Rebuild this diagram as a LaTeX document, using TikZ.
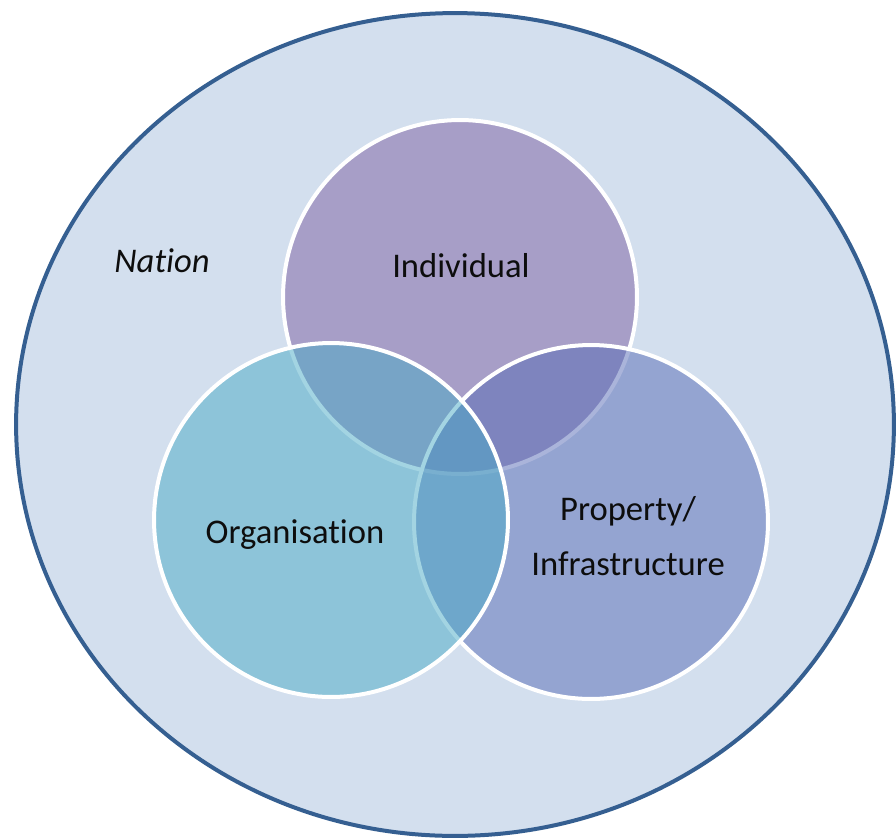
\documentclass[tikz,border=0pt]{standalone}
\usepackage{fontspec}
\setmainfont{Carlito}[Ligatures=NoCommon]
\usepackage{xcolor}
\usetikzlibrary{shapes.geometric,positioning}

\definecolor{nationfill}{RGB}{211,223,238}
\definecolor{nationline}{RGB}{53,95,145}
\definecolor{indfill}{RGB}{125,95,162}
\definecolor{orgfill}{RGB}{73,171,198}
\definecolor{propfill}{RGB}{87,107,182}
\definecolor{labeltext}{RGB}{13,13,13}

\begin{document}
\begin{tikzpicture}[
    x=0.02cm, y=-0.02cm,
    nation/.style={ellipse, draw=nationline, fill=nationfill, line width=0.08cm,
        inner sep=0pt, minimum width=17.56cm, minimum height=16.46cm},
    venn/.style={circle, draw=white, line width=0.08cm, fill opacity=0.5,
        inner sep=0pt, minimum size=7.08cm},
    label/.style={text=labeltext, align=center, font=\fontsize{19.7}{31.2}\selectfont}
]
\useasboundingbox (0,0) rectangle (896,839);

% outer region
\node[nation] (nation) at (455,424.5) {};

% the three sets, drawn in this order so the borders overlap right
\node[venn, fill=indfill] (ind) at (460,297) {};
\node[venn, fill=propfill] (prop) at (591,522) {};
\node[venn, fill=orgfill] (org) at (331,520) {};

% labels
\node[label, font=\fontsize{19.7}{31.2}\selectfont\itshape] (nationlbl) at (162,261) {Nation};
\node[label] (indlbl) at (461,266) {Individual};
\node[label] (orglbl) at (295,535) {Organisation};
\node[label] (proplbl) at (628,536) {Property/\\Infrastructure};

\end{tikzpicture}
\end{document}
